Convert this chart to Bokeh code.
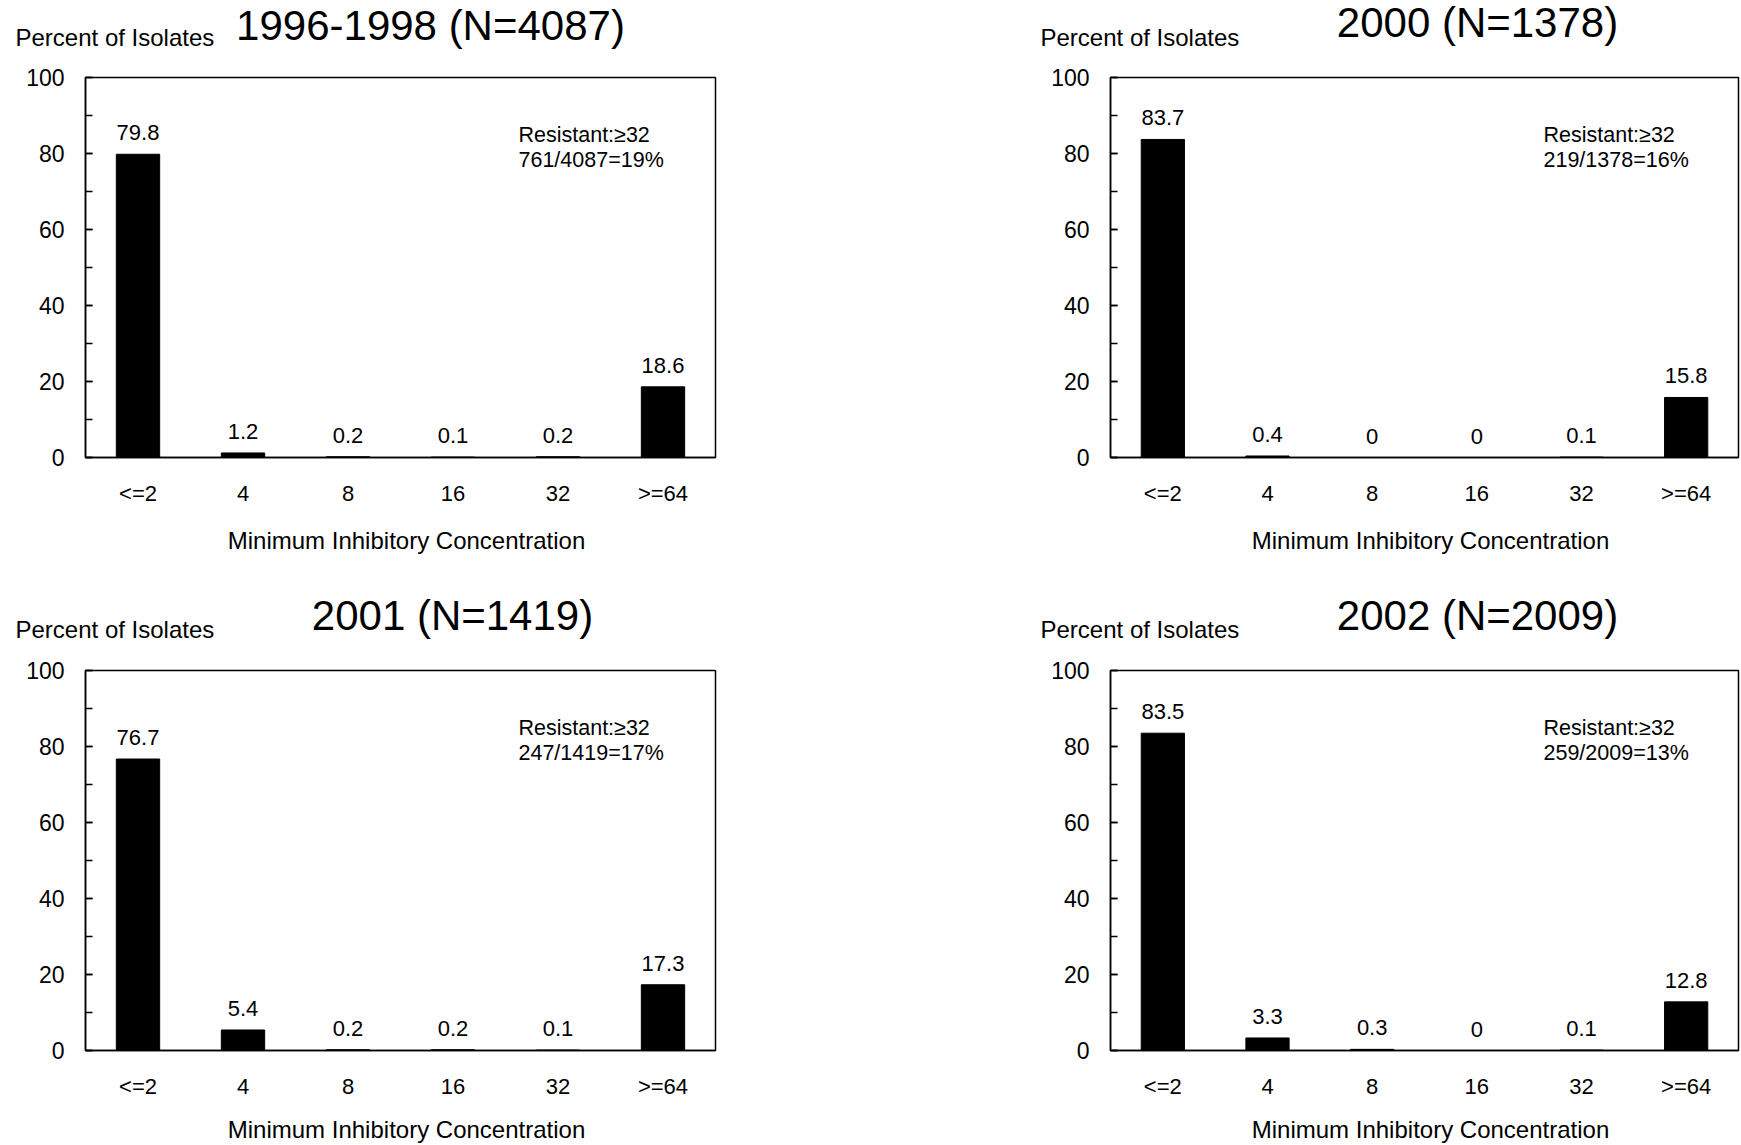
from bokeh.plotting import figure
from bokeh.models import (ColumnDataSource, FactorRange, Range1d, Label, LabelSet,
                          SingleIntervalTicker)
from bokeh.layouts import row, column
from bokeh.core.properties import value
from bokeh.embed import file_html
from bokeh.resources import INLINE

# MIC categories (x axis)
mic_labels = ["<=2", "4", "8", "16", "32", ">=64"]

# Percent of isolates in each MIC category, per surveillance period
period_titles = ["1996-1998 (N=4087)", "2000 (N=1378)", "2001 (N=1419)", "2002 (N=2009)"]
pct_1996_1998 = [79.8, 1.2, 0.2, 0.1, 0.2, 18.6]
pct_2000 = [83.7, 0.4, 0, 0, 0.1, 15.8]
pct_2001 = [76.7, 5.4, 0.2, 0.2, 0.1, 17.3]
pct_2002 = [83.5, 3.3, 0.3, 0, 0.1, 12.8]

# Resistance summary (breakpoint >= 32)
resistant_n = [761, 219, 247, 259]
total_n = [4087, 1378, 1419, 2009]
resistant_pct = [19, 16, 17, 13]

series = [pct_1996_1998, pct_2000, pct_2001, pct_2002]

FONT = "Liberation Sans"
HEADER_H = 65

# per-panel geometry: canvas width, left/right borders, bottom border,
# caption standoff, and vertical centres (px from header top) of the
# y caption and the title
panels = [
    dict(w=870, bl=85, br=155, bb=136, cap_s=18, cap_y=37, title_dx=345, title_y=25.4),
    dict(w=871, bl=240, br=3, bb=136, cap_s=18, cap_y=37, title_dx=367, title_y=22.2),
    dict(w=870, bl=85, br=155, bb=95, cap_s=14, cap_y=36, title_dx=367, title_y=21.5),
    dict(w=871, bl=240, br=3, bb=95, cap_s=14, cap_y=36, title_dx=367, title_y=21.5),
]


def make_header(i):
    g = panels[i]
    h = figure(width=g["w"], height=HEADER_H,
               x_range=Range1d(0, g["w"]), y_range=Range1d(0, HEADER_H),
               x_axis_location=None, y_axis_location=None,
               output_backend="svg", toolbar_location=None,
               min_border_left=0, min_border_right=0,
               min_border_top=0, min_border_bottom=0)
    h.outline_line_color = None
    h.xgrid.visible = False
    h.ygrid.visible = False
    h.add_layout(Label(x=g["bl"] - 70, y=HEADER_H - g["cap_y"],
                       text="Percent of Isolates", text_align="left",
                       text_baseline="middle", text_font=FONT,
                       text_font_size="24px", text_color="black"))
    h.add_layout(Label(x=g["bl"] + g["title_dx"], y=HEADER_H - g["title_y"],
                       text=period_titles[i], text_align="center",
                       text_baseline="middle", text_font=FONT,
                       text_font_size="42px", text_color="black"))
    return h


def make_panel(i):
    g = panels[i]
    vals = series[i]
    p = figure(width=g["w"], height=12 + 380 + g["bb"],
               x_range=FactorRange(*mic_labels), y_range=Range1d(0, 100),
               output_backend="svg", toolbar_location=None,
               min_border_left=g["bl"], min_border_right=g["br"],
               min_border_top=12, min_border_bottom=g["bb"])
    p.background_fill_color = "white"
    p.border_fill_color = "white"
    p.outline_line_color = "black"
    p.outline_line_width = 1.5
    p.xgrid.visible = False
    p.ygrid.visible = False

    src = ColumnDataSource(dict(cat=mic_labels, pct=vals,
                                txt=[f"{v:g}" for v in vals]))
    p.vbar(x="cat", top="pct", width=0.413, source=src,
           fill_color="black", line_color="black")

    p.add_layout(LabelSet(x="cat", y="pct", text="txt", source=src,
                          text_align="center", text_baseline="alphabetic",
                          y_offset=14, text_font=value(FONT),
                          text_font_size="22px", text_color="black"))

    # y axis: inward ticks, majors every 20, minors every 10
    yax = p.yaxis[0]
    yax.ticker = SingleIntervalTicker(interval=20, num_minor_ticks=2)
    yax.major_tick_in = 7
    yax.major_tick_out = 0
    yax.minor_tick_in = 7
    yax.minor_tick_out = 0
    yax.major_label_standoff = 21
    yax.major_label_text_font = FONT
    yax.major_label_text_font_size = "23px"
    yax.major_label_text_color = "black"
    yax.axis_line_color = "black"
    yax.axis_line_width = 1.5
    yax.major_tick_line_color = "black"
    yax.minor_tick_line_color = "black"
    yax.major_tick_line_width = 1.5
    yax.minor_tick_line_width = 1.5

    # x axis: category labels only, caption below (en space nudges it right)
    xax = p.xaxis[0]
    xax.major_tick_line_color = None
    xax.minor_tick_line_color = None
    xax.major_label_standoff = 17
    xax.major_label_text_font = FONT
    xax.major_label_text_font_size = "22px"
    xax.major_label_text_color = "black"
    xax.axis_line_color = "black"
    xax.axis_line_width = 1.5
    xax.axis_label = "\u2002Minimum Inhibitory Concentration"
    xax.axis_label_standoff = g["cap_s"]
    xax.axis_label_text_font = FONT
    xax.axis_label_text_font_size = "24px"
    xax.axis_label_text_font_style = "normal"
    xax.axis_label_text_color = "black"

    # resistance summary
    p.add_layout(Label(x=0, y=100, x_offset=433, y_offset=-57,
                       text="Resistant:\u226532", text_align="left",
                       text_baseline="middle", text_font=FONT,
                       text_font_size="21.5px", text_color="black"))
    p.add_layout(Label(x=0, y=100, x_offset=433, y_offset=-82.5,
                       text=f"{resistant_n[i]}/{total_n[i]}={resistant_pct[i]}%",
                       text_align="left", text_baseline="middle",
                       text_font=FONT, text_font_size="21.5px", text_color="black"))
    return p


headers = [make_header(i) for i in range(4)]
plots = [make_panel(i) for i in range(4)]
page = column(row(headers[0], headers[1], spacing=0),
              row(plots[0], plots[1], spacing=0),
              row(headers[2], headers[3], spacing=0),
              row(plots[2], plots[3], spacing=0),
              spacing=0)

open("out.html", "w").write(file_html(page, INLINE))
